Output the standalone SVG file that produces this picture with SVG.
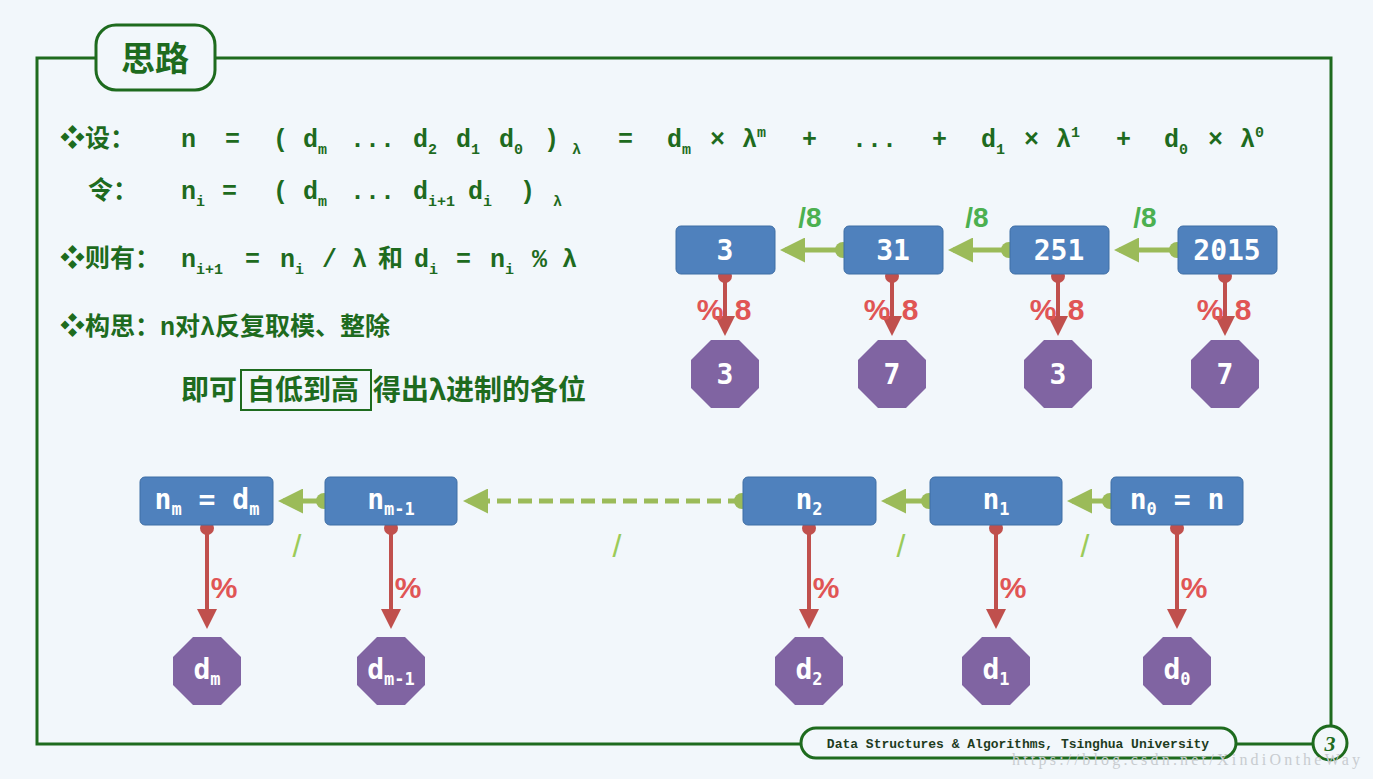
<svg xmlns="http://www.w3.org/2000/svg" width="1373" height="779" viewBox="0 0 1373 779">
<defs>
<style>
.t{font-family:"Liberation Mono","Noto Sans CJK SC",monospace;font-weight:bold;fill:#1e6b1e;font-size:25px}
.c{font-family:"Noto Sans CJK SC",sans-serif;font-weight:bold;fill:#1e6b1e;font-size:28px}
.box{fill:#4f81bd;stroke:#3f6ea5;stroke-width:1}
.oct{fill:#8064a2}
.w{font-family:"DejaVu Sans Mono",monospace;font-weight:bold;fill:#fff;font-size:28px;text-anchor:middle}
.ws{font-size:17px}
.g{stroke:#9bbb59;stroke-width:5;fill:none}
.r{stroke:#c0504d;stroke-width:4;fill:none}
.rl{font-family:"Liberation Sans",sans-serif;font-weight:bold;fill:#e05555;font-size:30px;text-anchor:middle}
.gl{font-family:"Liberation Sans",sans-serif;font-weight:bold;fill:#4cb050;font-size:28px;text-anchor:middle}
.sl{font-family:"Liberation Sans",sans-serif;fill:#9bcb59;font-size:32px;text-anchor:middle}
</style>
<marker id="ga" markerWidth="5" markerHeight="5" refX="4" refY="2.5" orient="auto" markerUnits="strokeWidth"><path d="M0,0L5,2.5L0,5Z" fill="#9bbb59"/></marker>
<marker id="ra" markerWidth="5" markerHeight="5" refX="4" refY="2.5" orient="auto" markerUnits="strokeWidth"><path d="M0,0L5,2.5L0,5Z" fill="#c0504d"/></marker>
<polygon id="o" points="-14,-34 14,-34 34,-14 34,14 14,34 -14,34 -34,14 -34,-14"/>
</defs>
<rect width="1373" height="779" fill="#f2f7fb"/>
<rect x="37" y="58" width="1294" height="686" fill="none" stroke="#1e6b1e" stroke-width="3"/>
<g id="title"><rect x="96" y="25" width="119" height="65" rx="20" fill="#f2f7fb" stroke="#1e6b1e" stroke-width="3"/><text x="155" y="71" class="c" style="font-size:34px" text-anchor="middle">思路</text></g>

<g id="text">
<text class="t" y="147"><tspan x="60">❖设：</tspan><tspan x="181">n</tspan><tspan x="225">=</tspan><tspan x="273">(</tspan><tspan x="303">d</tspan><tspan dy="7" font-size="15">m</tspan><tspan x="350" dy="-7">...</tspan><tspan x="413">d</tspan><tspan dy="7" font-size="15">2</tspan><tspan x="456" dy="-7">d</tspan><tspan dy="7" font-size="15">1</tspan><tspan x="499" dy="-7">d</tspan><tspan dy="7" font-size="15">0</tspan><tspan x="544" dy="-7">)</tspan><tspan x="572" dy="7" font-size="15">λ</tspan><tspan x="618" dy="-7">=</tspan><tspan x="667">d</tspan><tspan dy="7" font-size="15">m</tspan><tspan x="710" dy="-7">×</tspan><tspan x="742">λ</tspan><tspan dy="-10" font-size="15">m</tspan><tspan x="802" dy="10">+</tspan><tspan x="852">...</tspan><tspan x="932">+</tspan><tspan x="981">d</tspan><tspan dy="7" font-size="15">1</tspan><tspan x="1024" dy="-7">×</tspan><tspan x="1056">λ</tspan><tspan dy="-10" font-size="15">1</tspan><tspan x="1116" dy="10">+</tspan><tspan x="1164">d</tspan><tspan dy="7" font-size="15">0</tspan><tspan x="1208" dy="-7">×</tspan><tspan x="1240">λ</tspan><tspan dy="-10" font-size="15">0</tspan></text>
<text class="t" y="199"><tspan x="88">令：</tspan><tspan x="181">n</tspan><tspan dy="7" font-size="15">i</tspan><tspan x="222" dy="-7">=</tspan><tspan x="273">(</tspan><tspan x="303">d</tspan><tspan dy="7" font-size="15">m</tspan><tspan x="350" dy="-7">...</tspan><tspan x="413">d</tspan><tspan dy="7" font-size="15">i+1</tspan><tspan x="468" dy="-7">d</tspan><tspan dy="7" font-size="15">i</tspan><tspan x="520" dy="-7">)</tspan><tspan x="553" dy="7" font-size="15">λ</tspan></text>
<text class="t" y="267"><tspan x="60">❖则有：</tspan><tspan x="181">n</tspan><tspan dy="7" font-size="15">i+1</tspan><tspan x="245" dy="-7">=</tspan><tspan x="280">n</tspan><tspan dy="7" font-size="15">i</tspan><tspan x="322" dy="-7">/</tspan><tspan x="352">λ</tspan><tspan x="378">和</tspan><tspan x="414">d</tspan><tspan dy="7" font-size="15">i</tspan><tspan x="456" dy="-7">=</tspan><tspan x="490">n</tspan><tspan dy="7" font-size="15">i</tspan><tspan x="532" dy="-7">%</tspan><tspan x="562">λ</tspan></text>
<text class="t" y="335" x="60">❖构思：n对λ反复取模、整除</text>
<text class="c" y="400"><tspan x="181">即可</tspan><tspan x="247">自低到高</tspan><tspan x="373">得出λ进制的各位</tspan></text>
<rect x="241" y="370" width="130" height="40" fill="none" stroke="#1e6b1e" stroke-width="2"/>
</g>

<g id="connectors">
<line class="g" x1="843" y1="250" x2="785" y2="250" marker-end="url(#ga)"/><circle cx="843" cy="250" r="8" fill="#9bbb59"/>
<line class="g" x1="1009" y1="250" x2="953" y2="250" marker-end="url(#ga)"/><circle cx="1009" cy="250" r="8" fill="#9bbb59"/>
<line class="g" x1="1177" y1="250" x2="1119" y2="250" marker-end="url(#ga)"/><circle cx="1177" cy="250" r="8" fill="#9bbb59"/>
<g class="r"><line x1="725" y1="276" x2="725" y2="332" marker-end="url(#ra)"/><line x1="892" y1="276" x2="892" y2="332" marker-end="url(#ra)"/><line x1="1058" y1="276" x2="1058" y2="332" marker-end="url(#ra)"/><line x1="1225" y1="276" x2="1225" y2="332" marker-end="url(#ra)"/></g>
<g fill="#c0504d"><circle cx="725" cy="276" r="7"/><circle cx="892" cy="276" r="7"/><circle cx="1058" cy="276" r="7"/><circle cx="1225" cy="276" r="7"/></g>
<text class="gl" x="810" y="227">/8</text><text class="gl" x="977" y="227">/8</text><text class="gl" x="1145" y="227">/8</text>
<g class="rl"><text x="710" y="320">%</text><text x="743" y="320">8</text><text x="877" y="320">%</text><text x="910" y="320">8</text><text x="1043" y="320">%</text><text x="1076" y="320">8</text><text x="1210" y="320">%</text><text x="1243" y="320">8</text></g>

<line class="g" x1="324" y1="501" x2="283" y2="501" marker-end="url(#ga)"/><circle cx="324" cy="501" r="8" fill="#9bbb59"/>
<line class="g" x1="742" y1="501" x2="468" y2="501" stroke-dasharray="14,7" marker-end="url(#ga)"/><circle cx="742" cy="501" r="8" fill="#9bbb59"/>
<line class="g" x1="929" y1="501" x2="886" y2="501" marker-end="url(#ga)"/><circle cx="929" cy="501" r="8" fill="#9bbb59"/>
<line class="g" x1="1110" y1="501" x2="1072" y2="501" marker-end="url(#ga)"/><circle cx="1110" cy="501" r="8" fill="#9bbb59"/>
<g class="r"><line x1="207" y1="528" x2="207" y2="625" marker-end="url(#ra)"/><line x1="391" y1="528" x2="391" y2="625" marker-end="url(#ra)"/><line x1="809" y1="528" x2="809" y2="625" marker-end="url(#ra)"/><line x1="996" y1="528" x2="996" y2="625" marker-end="url(#ra)"/><line x1="1177" y1="528" x2="1177" y2="625" marker-end="url(#ra)"/></g>
<g fill="#c0504d"><circle cx="207" cy="528" r="7"/><circle cx="391" cy="528" r="7"/><circle cx="809" cy="528" r="7"/><circle cx="996" cy="528" r="7"/><circle cx="1177" cy="528" r="7"/></g>
<g class="rl"><text x="224" y="598">%</text><text x="408" y="598">%</text><text x="826" y="598">%</text><text x="1013" y="598">%</text><text x="1194" y="598">%</text></g>
<g class="sl"><text x="297" y="557">/</text><text x="617" y="557">/</text><text x="901" y="557">/</text><text x="1085" y="557">/</text></g>
</g>

<g id="n3"><rect class="box" x="676" y="226" width="99" height="48" rx="5"/><text class="w" x="725" y="260">3</text></g>
<g id="n31"><rect class="box" x="844" y="226" width="99" height="48" rx="5"/><text class="w" x="893" y="260">31</text></g>
<g id="n251"><rect class="box" x="1010" y="226" width="99" height="48" rx="5"/><text class="w" x="1059" y="260">251</text></g>
<g id="n2015"><rect class="box" x="1178" y="226" width="99" height="48" rx="5"/><text class="w" x="1227" y="260">2015</text></g>
<g id="o1"><use href="#o" x="725" y="374" class="oct"/><text class="w" x="725" y="384">3</text></g>
<g id="o2"><use href="#o" x="892" y="374" class="oct"/><text class="w" x="892" y="384">7</text></g>
<g id="o3"><use href="#o" x="1058" y="374" class="oct"/><text class="w" x="1058" y="384">3</text></g>
<g id="o4"><use href="#o" x="1225" y="374" class="oct"/><text class="w" x="1225" y="384">7</text></g>

<g id="nm"><rect class="box" x="140" y="477" width="133" height="48" rx="5"/><text class="w" x="207" y="509" font-size="25">n<tspan class="ws" dy="6">m</tspan><tspan dy="-6"> = d</tspan><tspan class="ws" dy="6">m</tspan></text></g>
<g id="nm1"><rect class="box" x="325" y="477" width="132" height="48" rx="5"/><text class="w" x="391" y="509" font-size="25">n<tspan class="ws" dy="6">m-1</tspan></text></g>
<g id="n2"><rect class="box" x="743" y="477" width="133" height="48" rx="5"/><text class="w" x="809" y="509" font-size="25">n<tspan class="ws" dy="6">2</tspan></text></g>
<g id="n1"><rect class="box" x="930" y="477" width="132" height="48" rx="5"/><text class="w" x="996" y="509" font-size="25">n<tspan class="ws" dy="6">1</tspan></text></g>
<g id="n0"><rect class="box" x="1111" y="477" width="132" height="48" rx="5"/><text class="w" x="1177" y="509" font-size="25">n<tspan class="ws" dy="6">0</tspan><tspan dy="-6"> = n</tspan></text></g>
<g id="dm"><use href="#o" x="207" y="671" class="oct"/><text class="w" x="207" y="679" font-size="25">d<tspan class="ws" dy="6">m</tspan></text></g>
<g id="dm1"><use href="#o" x="391" y="671" class="oct"/><text class="w" x="391" y="679" font-size="25">d<tspan class="ws" dy="6">m-1</tspan></text></g>
<g id="d2"><use href="#o" x="809" y="671" class="oct"/><text class="w" x="809" y="679" font-size="25">d<tspan class="ws" dy="6">2</tspan></text></g>
<g id="d1"><use href="#o" x="996" y="671" class="oct"/><text class="w" x="996" y="679" font-size="25">d<tspan class="ws" dy="6">1</tspan></text></g>
<g id="d0"><use href="#o" x="1177" y="671" class="oct"/><text class="w" x="1177" y="679" font-size="25">d<tspan class="ws" dy="6">0</tspan></text></g>

<g id="footer"><rect x="801" y="728" width="435" height="30" rx="15" fill="#f2f7fb" stroke="#1e6b1e" stroke-width="3"/><text x="1018" y="748" font-family="Liberation Mono,monospace" font-weight="bold" font-size="13" fill="#1e3c1e" text-anchor="middle">Data Structures &amp; Algorithms, Tsinghua University</text>
<circle cx="1330" cy="743" r="17" fill="#f2f7fb" stroke="#1e6b1e" stroke-width="3"/><text x="1330" y="751" font-family="Liberation Serif,serif" font-style="italic" font-weight="bold" font-size="22" fill="#1e6b1e" text-anchor="middle">3</text>
<text x="1012" y="765" font-family="Liberation Serif,serif" font-size="16" textLength="348" fill="#c8ccd0">https://blog.csdn.net/XindiOntheWay</text></g>
</svg>
